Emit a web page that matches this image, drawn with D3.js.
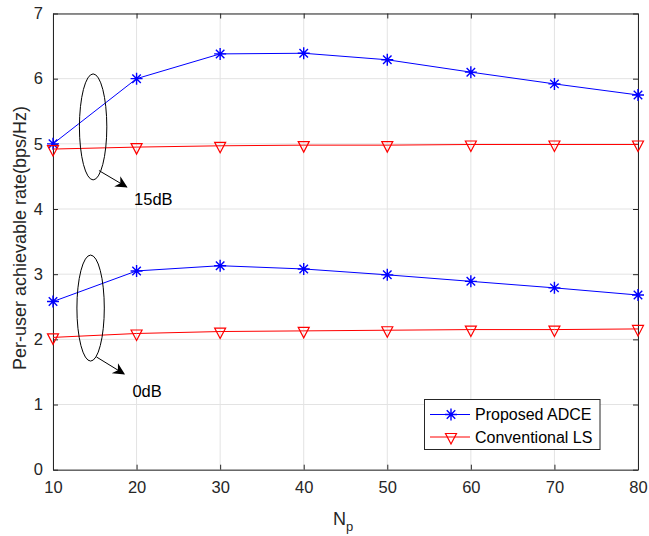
<!DOCTYPE html>
<html><head><meta charset="utf-8">
<script src="https://cdn.jsdelivr.net/npm/d3@7"></script>
<style>body{margin:0;background:#fff;} text{font-family:"Liberation Sans",Arial,sans-serif;}</style>
</head><body><svg id="c" width="649" height="536"></svg>
<script>
const np = [10,20,30,40,50,60,70,80];
const adce15 = [5.00,6.00,6.38,6.39,6.29,6.10,5.92,5.75];
const ls15   = [4.92,4.95,4.97,4.98,4.98,4.99,4.99,4.99];
const adce0  = [2.58,3.05,3.13,3.08,2.99,2.89,2.79,2.68];
const ls0    = [2.03,2.09,2.12,2.13,2.14,2.15,2.15,2.16];
const xTicks = [10,20,30,40,50,60,70,80];
const yTicks = [0,1,2,3,4,5,6,7];
const legendLabels = ["Proposed ADCE","Conventional LS"];

const svg = d3.select("#c");
const L=53, R=638, T=13.5, B=469.7;
const x = d3.scaleLinear().domain([10,80]).range([L,R]);
const y = d3.scaleLinear().domain([0,7]).range([B,T]);

// grid
svg.append("g").selectAll("line").data(xTicks).join("line")
  .attr("x1",d=>x(d)).attr("x2",d=>x(d)).attr("y1",T).attr("y2",B)
  .attr("stroke","#e3e3e3").attr("stroke-width",1);
svg.append("g").selectAll("line").data(yTicks).join("line")
  .attr("x1",L).attr("x2",R).attr("y1",d=>y(d)).attr("y2",d=>y(d))
  .attr("stroke","#e3e3e3").attr("stroke-width",1);

// axes
const fs = "16.5px";
const fmt = d3.format("d");
const gx = svg.append("g").attr("transform",`translate(0,${B})`)
  .call(d3.axisBottom(x).tickValues(xTicks).tickFormat(fmt).tickSizeInner(-5).tickSizeOuter(0).tickPadding(12));
const gx2 = svg.append("g").attr("transform",`translate(0,${T})`)
  .call(d3.axisTop(x).tickValues(xTicks).tickSizeInner(-5).tickSizeOuter(0).tickFormat(""));
const gy = svg.append("g").attr("transform",`translate(${L},0)`)
  .call(d3.axisLeft(y).tickValues(yTicks).tickFormat(fmt).tickSizeInner(-5).tickSizeOuter(0).tickPadding(10));
const gy2 = svg.append("g").attr("transform",`translate(${R},0)`)
  .call(d3.axisRight(y).tickValues(yTicks).tickSizeInner(-5).tickSizeOuter(0).tickFormat(""));
[gx,gx2,gy,gy2].forEach(g=>{
  g.selectAll("path,line").attr("stroke","#262626");
  g.selectAll("text").attr("fill","#262626").style("font-size",fs).style("font-family",'"Liberation Sans",Arial,sans-serif');
});

// labels
svg.append("text").attr("transform","translate(26,238) rotate(-90)").attr("text-anchor","middle")
  .attr("fill","#262626").style("font-size","18px").text("Per-user achievable rate(bps/Hz)");
const xl = svg.append("text").attr("x",333).attr("y",525).attr("fill","#262626").style("font-size","18px");
xl.append("tspan").text("N");
xl.append("tspan").attr("dy",6).style("font-size","13px").text("p");

const line = d3.line().x((d,i)=>x(np[i])).y(d=>y(d));
function drawStar(g,cx,cy){
  const r=6, d2=r*0.7071;
  const p = `M${cx-r},${cy}L${cx+r},${cy}M${cx},${cy-r}L${cx},${cy+r}M${cx-d2},${cy-d2}L${cx+d2},${cy+d2}M${cx-d2},${cy+d2}L${cx+d2},${cy-d2}`;
  g.append("path").attr("d",p).attr("stroke","#0000ff").attr("stroke-width",1.4).attr("fill","none");
}
function drawTri(g,cx,cy){
  const w=5.5, top=cy-3.5, bot=cy+7;
  g.append("path").attr("d",`M${cx-w},${top}L${cx+w},${top}L${cx},${bot}Z`)
   .attr("stroke","#ff0000").attr("stroke-width",1.2).attr("fill","none");
}
function series(vals,color,marker){
  const g = svg.append("g");
  g.append("path").datum(vals).attr("d",line).attr("fill","none").attr("stroke",color).attr("stroke-width",1);
  vals.forEach((v,i)=>marker(g,x(np[i]),y(v)));
}
series(adce15,"#0000ff",drawStar);
series(ls15,"#ff0000",drawTri);
series(adce0,"#0000ff",drawStar);
series(ls0,"#ff0000",drawTri);

// annotations
const ann = [
  {cx:14.8, cy:5.26, label:"15dB", ax1:15.5, ay1:4.59, ax2:18.8, ay2:4.34, tx:19.7, ty:4.06},
  {cx:14.5, cy:2.48, label:"0dB",  ax1:15.2, ay1:1.73, ax2:18.5, ay2:1.47, tx:19.5, ty:1.11}
];
svg.append("defs").append("marker").attr("id","ah").attr("viewBox","0 0 10 10")
  .attr("refX",9).attr("refY",5).attr("markerWidth",16).attr("markerHeight",12).attr("markerUnits","userSpaceOnUse")
  .attr("orient","auto").append("path").attr("d","M0,0L10,5L0,10L3,5Z").attr("fill","#000");
ann.forEach(a=>{
  svg.append("ellipse").attr("cx",x(a.cx)).attr("cy",y(a.cy)).attr("rx",13.7).attr("ry",53)
    .attr("fill","none").attr("stroke","#000").attr("stroke-width",1);
  svg.append("line").attr("x1",x(a.ax1)).attr("y1",y(a.ay1)).attr("x2",x(a.ax2)).attr("y2",y(a.ay2))
    .attr("stroke","#000").attr("stroke-width",1).attr("marker-end","url(#ah)");
  svg.append("text").attr("x",x(a.tx)).attr("y",y(a.ty)).attr("fill","#000").style("font-size","16.5px").text(a.label);
});

// legend
const lg = svg.append("g");
lg.append("rect").attr("x",424.5).attr("y",399.5).attr("width",175.5).attr("height",50)
  .attr("fill","#fff").attr("stroke","#262626").attr("stroke-width",1);
const colors=["#0000ff","#ff0000"], markers=[drawStar,drawTri];
legendLabels.forEach((t,i)=>{
  const yy = 414.5 + i*22.5;
  lg.append("line").attr("x1",430).attr("x2",470).attr("y1",yy).attr("y2",yy).attr("stroke",colors[i]).attr("stroke-width",1);
  markers[i](lg,451,yy);
  lg.append("text").attr("x",475).attr("y",yy+5.5).attr("fill","#000").style("font-size","16px").text(t);
});
</script></body></html>
